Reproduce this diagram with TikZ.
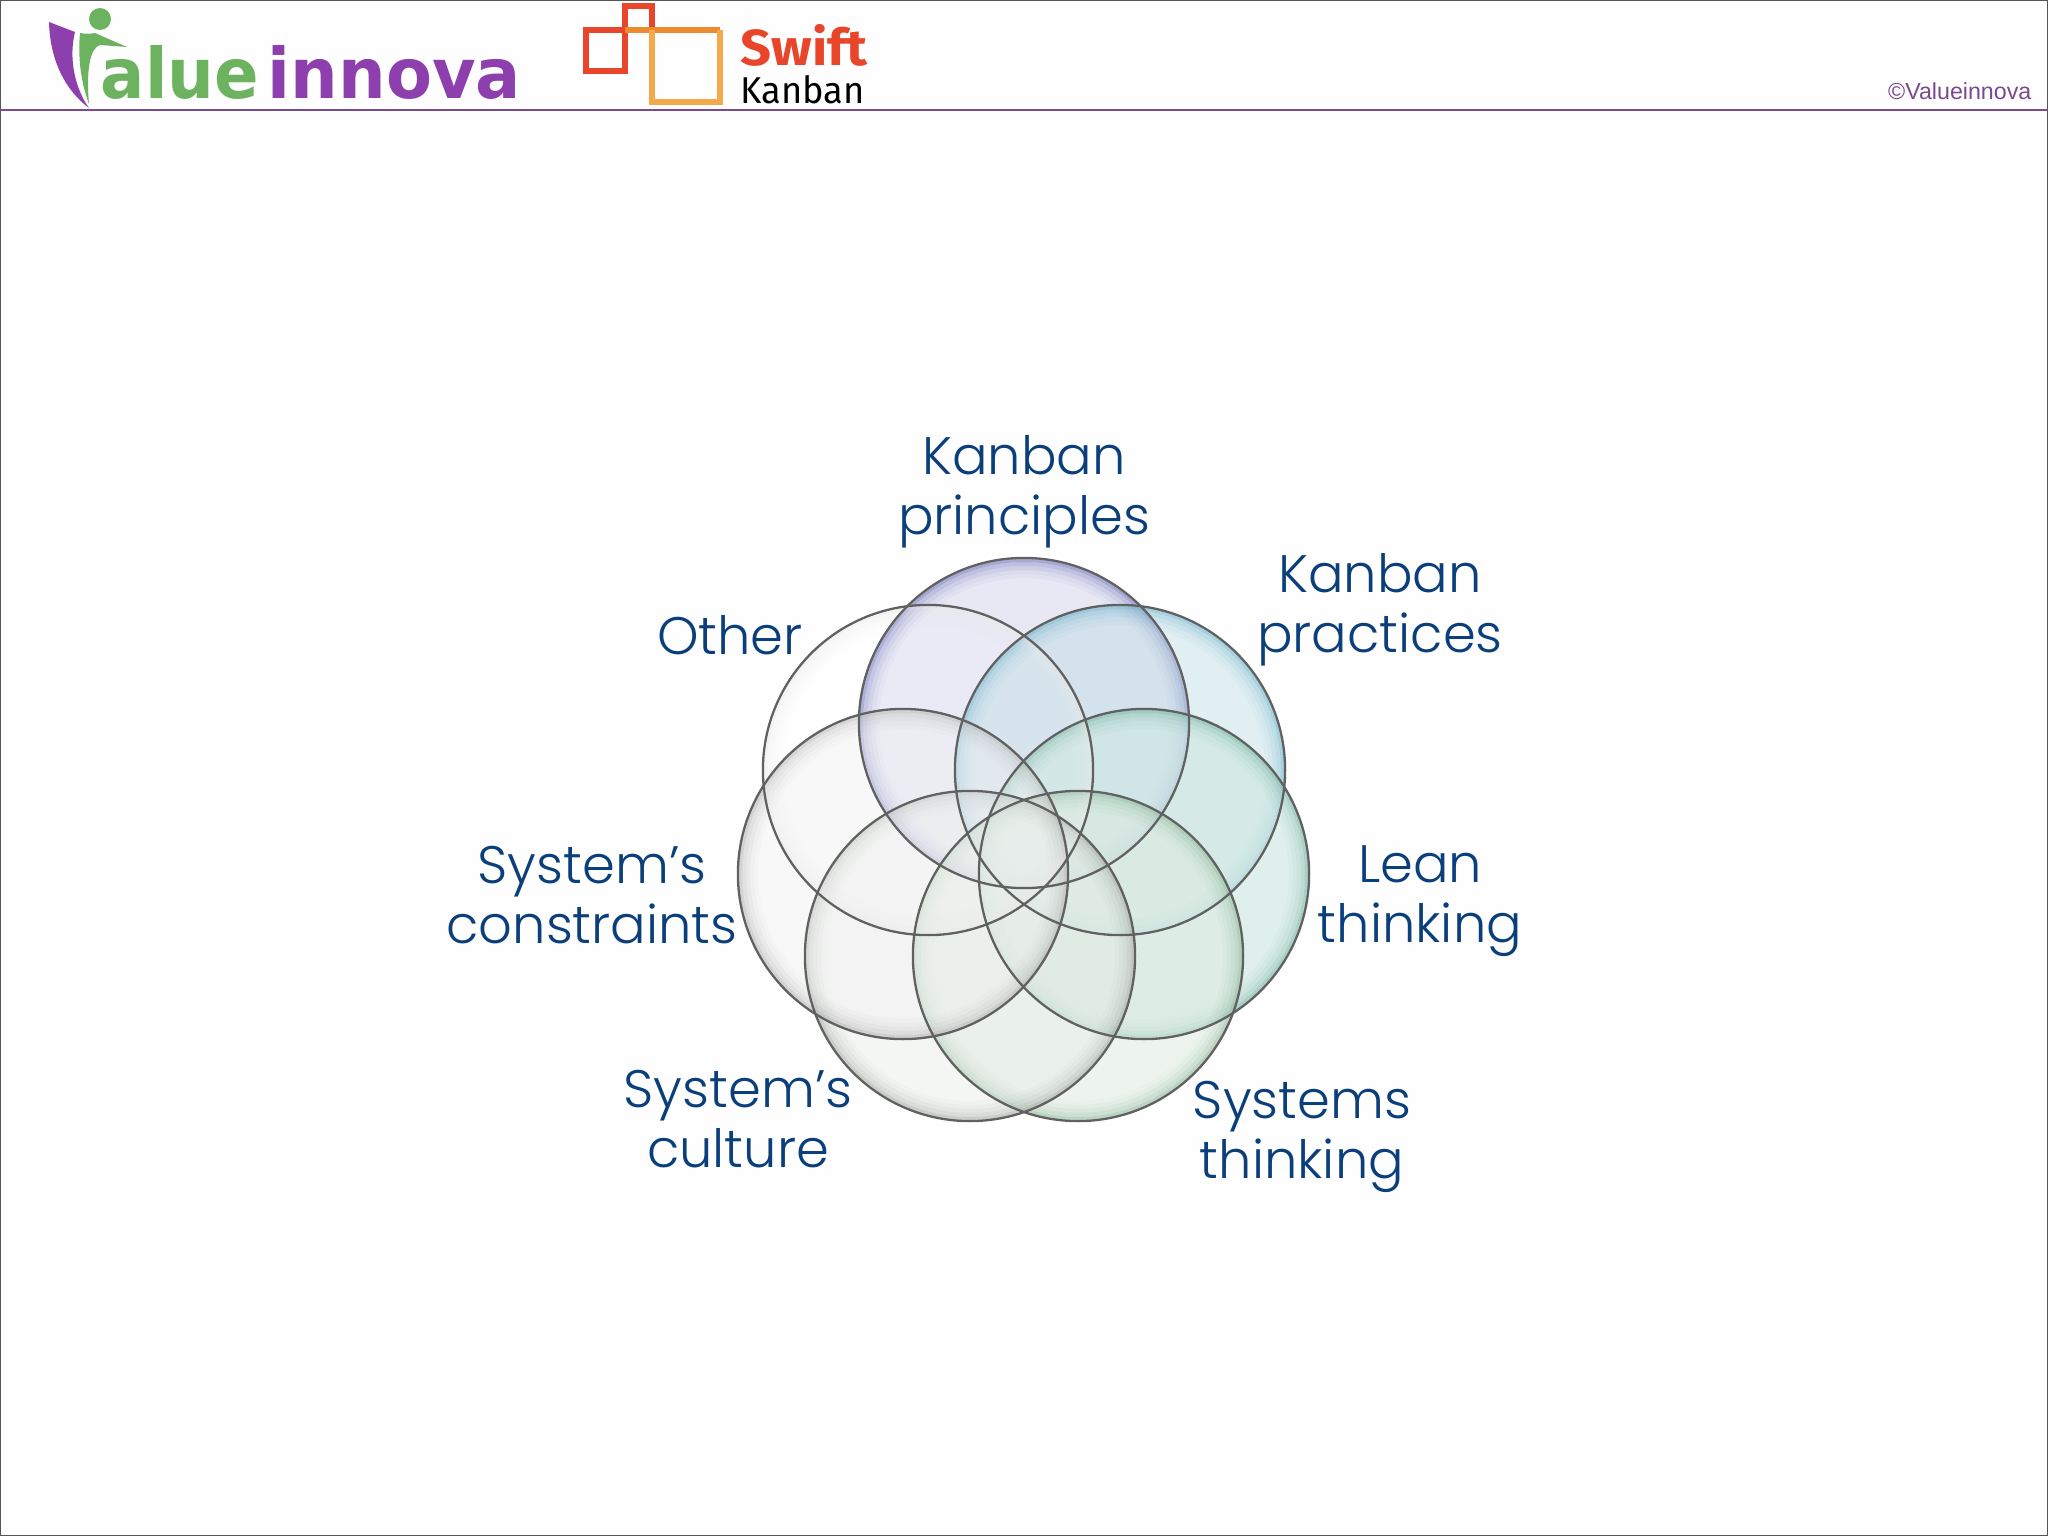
\documentclass[tikz,border=0pt]{standalone}
\usepackage{fontspec}
\usepackage{graphicx}
\setmainfont{Liberation Sans}
\newfontfamily\vennfont{Poppins Light}
\newfontfamily\logofont{Fira Sans}
\newfontfamily\innovafont{DejaVu Sans}

\definecolor{labelblue}{HTML}{0B3F7C}
\definecolor{framegray}{HTML}{555555}
\definecolor{headpurple}{HTML}{7B4A8E}
\definecolor{logopurple}{HTML}{8E3FAE}
\definecolor{logogreen}{HTML}{6DB35F}
\definecolor{swiftred}{HTML}{E8452B}
\definecolor{swiftmid}{HTML}{EE8A2E}
\definecolor{swiftorange}{HTML}{F4A94A}
\definecolor{baseA}{HTML}{C5C8E6}
\definecolor{rimA}{HTML}{5050A8}
\definecolor{baseB}{HTML}{B7D9E1}
\definecolor{rimB}{HTML}{58A8C4}
\definecolor{baseC}{HTML}{CFE8E2}
\definecolor{rimC}{HTML}{60A890}
\definecolor{baseD}{HTML}{DDEBDF}
\definecolor{rimD}{HTML}{78A888}
\definecolor{baseE}{HTML}{E6EBE6}
\definecolor{rimE}{HTML}{909890}
\definecolor{baseF}{HTML}{F0F0F0}
\definecolor{rimF}{HTML}{A0A0A0}
\definecolor{baseG}{HTML}{FFFFFF}
\definecolor{rimG}{HTML}{E8E8E8}

\tikzset{
  venn/.style={circle, minimum size=3.3cm, inner sep=0pt, line width=0.65pt,
    draw=black!62},
  vennring/.style={line width=0.04cm},
  venntext/.style={font=\vennfont\fontsize{15}{17}\selectfont, text=labelblue,
    align=center, inner sep=0pt},
  logotext/.style={font=\logofont\bfseries, inner sep=0pt, anchor=south west},
}
\def\vennlist{kp/1024/723/A/0.4, kpr/1120/770/B/0.4, lean/1144/874/C/0.65,
  sys/1078/956/D/0.5, cult/970/956/E/0.4, cons/903/874/F/0.4, other/928/770/G/0.1}

\begin{document}
\begin{tikzpicture}[x=0.01cm, y=-0.01cm]
  \useasboundingbox (0,0) rectangle (2048,1536);
  \fill[white!99.5!black] (0,0) rectangle (2048,1536);
  \draw[framegray, line width=0.6pt] (0,0) rectangle (2048,1536);

  % header
  \coordinate (lineL) at (0,110);
  \coordinate (lineR) at (2048,110);
  \draw[headpurple, line width=0.7pt] (lineL) -- (lineR);
  \node[font=\fontsize{6.6}{8}\selectfont, text=headpurple, inner sep=0pt, anchor=base east]
    (copyright) at (2032,99) {©Valueinnova};

  % value innova logo
  \fill[logopurple] (49,22) -- (75,32) .. controls (68,60) and (76,90) .. (89,108)
    .. controls (65,90) and (50,60) .. (49,22) -- cycle;
  \fill[logogreen] (100,19) circle (11);
  \fill[logogreen] (80,33) .. controls (86,34) and (90,34) .. (95,33) -- (127,47) -- (100,45)
    .. controls (90,48) and (86,70) .. (89,104) .. controls (80,80) and (78,55) .. (80,33) -- cycle;
  \node[logotext, text=logogreen, font=\innovafont\bfseries] (alue) at (100,100) {\resizebox{1.58cm}{0.53cm}{alue}};
  \node[logotext, text=logopurple, font=\innovafont\bfseries] (innova) at (267,100) {\resizebox{2.53cm}{0.53cm}{innova}};

  % swift kanban logo
  \draw[swiftred, line width=1.6pt] (625,30) -- (625,71) -- (586,71) -- (586,30) -- (625,30);
  \draw[swiftred, line width=1.6pt] (625,30) -- (625,6) -- (652,6) -- (652,30);
  \draw[swiftmid, line width=1.6pt] (625,30) -- (720,30);
  \draw[swiftorange, line width=1.6pt] (652,30) -- (652,102) -- (720,102) -- (720,30);
  \node[logotext, text=swiftred] (swift) at (740,67) {\resizebox{1.27cm}{0.41cm}{Swift}};
  \node[logotext, text=black, font=\logofont] (kanban) at (740,105) {\resizebox{1.24cm}{0.28cm}{Kanban}};

  % circles, glass first and outlines on top
  \foreach \name/\cx/\cy/\tint/\op in \vennlist{
    \fill[base\tint, fill opacity=\op] (\cx,\cy) circle (165);
    \foreach \rad/\alpha in {163/0.42, 159/0.26, 155/0.16, 151/0.09, 147/0.04}
      \draw[vennring, rim\tint, draw opacity=\alpha] (\cx,\cy) circle (\rad);
  }
  \foreach \name/\cx/\cy/\tint/\op in \vennlist
    \node[venn] (\name) at (\cx,\cy) {};

  % labels
  \node[venntext] (lblkp) at (1024,492) {Kanban\\principles};
  \node[venntext] (lblkpr) at (1380,610) {Kanban\\practices};
  \node[venntext] (lblother) at (730,635) {Other};
  \node[venntext] (lbllean) at (1420,901) {Lean\\thinking};
  \node[venntext] (lblsys) at (1302,1137) {Systems\\thinking};
  \node[venntext] (lblcult) at (738,1119) {System’s\\culture};
  \node[venntext] (lblcons) at (592,895) {System’s\\constraints};
\end{tikzpicture}
\end{document}
